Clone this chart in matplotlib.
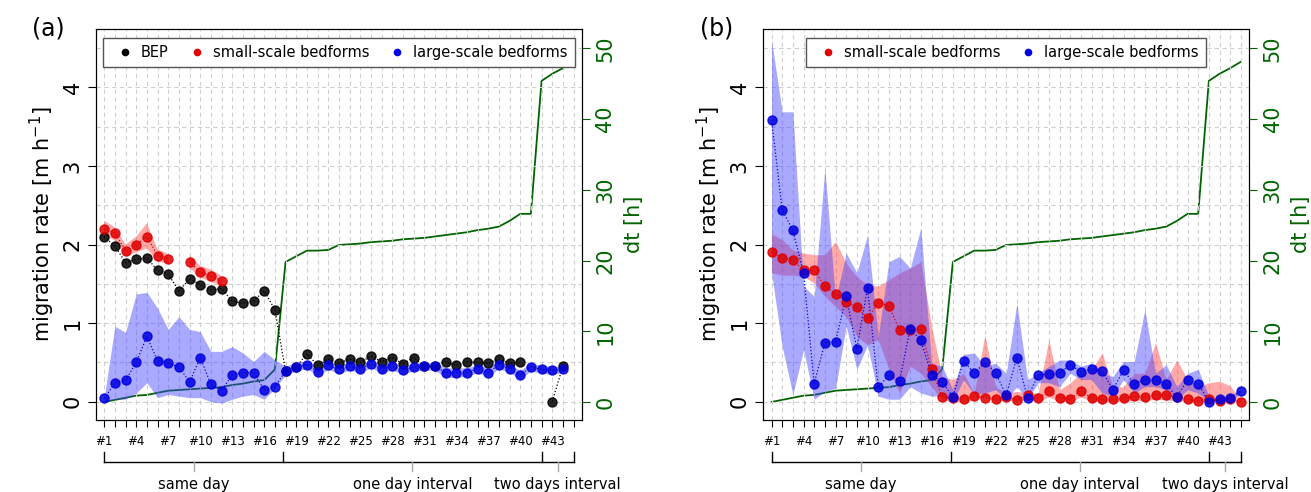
import numpy as np
import matplotlib.pyplot as plt
from matplotlib.transforms import blended_transform_factory

nan = np.nan
idx = np.arange(1, 46)

# time between surveys [h]
dt = [0, 0.3, 0.6, 0.9, 1.0, 1.3, 1.6, 1.7, 1.8, 1.9, 2.0, 2.1, 2.4, 2.6, 2.9, 3.1, 4.6,
      19.8, 20.6, 21.4, 21.4, 21.5, 22.2, 22.3, 22.4, 22.6, 22.7, 22.8, 23.0, 23.1, 23.2,
      23.4, 23.6, 23.8, 24.0, 24.3, 24.5, 24.8, 25.6, 26.6, 26.6, 45.4, 46.4, 47.2, 48.1]

# panel (a)
bep_a = [2.10, 1.98, 1.77, 1.81, 1.83, 1.67, 1.62, 1.41, 1.56, 1.49, 1.42, 1.44, 1.28, 1.25,
         1.28, 1.41, 1.17, 0.39, 0.44, 0.61, 0.46, 0.54, 0.49, 0.54, 0.50, 0.58, 0.51, 0.56,
         0.48, 0.56, 0.45, 0.45, 0.51, 0.46, 0.51, 0.50, 0.49, 0.54, 0.49, 0.50, nan, nan,
         0.0, 0.45, nan]
small_a = [2.20, 2.15, 1.92, 2.00, 2.10, 1.86, 1.82, nan, 1.78, 1.65, 1.60, 1.54] + [nan] * 33
small_a_lo = [2.12, 2.05, 1.85, 1.90, 1.95, 1.78, 1.76, nan, 1.70, 1.58, 1.52, 1.48] + [nan] * 33
small_a_hi = [2.30, 2.22, 2.00, 2.10, 2.27, 1.94, 1.88, nan, 1.86, 1.73, 1.68, 1.60] + [nan] * 33
large_a = [0.04, 0.24, 0.27, 0.50, 0.83, 0.52, 0.49, 0.44, 0.25, 0.56, 0.22, 0.14, 0.34, 0.37,
           0.37, 0.15, 0.19, 0.39, 0.44, 0.47, 0.38, 0.46, 0.41, 0.45, 0.42, 0.48, 0.42, 0.45,
           0.40, 0.44, 0.45, 0.45, 0.37, 0.37, 0.37, 0.42, 0.37, 0.47, 0.42, 0.34, 0.44, 0.41,
           0.40, 0.41, nan]
large_a_hi = [0.06, 0.96, 0.88, 1.37, 1.39, 1.19, 0.92, 1.08, 0.92, 0.89, 0.64, 0.64, 0.70, 0.62,
              0.51, 0.64, 0.53, 0.45, 0.50, 0.52, 0.44, 0.51, 0.47, 0.50, 0.47, 0.53, 0.47, 0.50,
              0.45, 0.49, 0.50, 0.50, 0.43, 0.43, 0.43, 0.47, 0.43, 0.52, 0.47, 0.40, 0.49, 0.46,
              0.45, 0.45, nan]
large_a_lo = [0.0, 0.03, 0.03, 0.11, 0.24, 0.05, 0.09, 0.07, 0.05, 0.05, 0.0, -0.02, 0.03, 0.07,
              0.09, 0.03, 0.17, 0.34, 0.39, 0.42, 0.33, 0.41, 0.36, 0.40, 0.37, 0.43, 0.37, 0.40,
              0.35, 0.39, 0.40, 0.40, 0.31, 0.31, 0.32, 0.37, 0.32, 0.42, 0.37, 0.29, 0.39, 0.36,
              0.35, 0.37, nan]

# panel (b)
small_b = [1.90, 1.83, 1.80, 1.67, 1.67, 1.47, 1.37, 1.27, 1.20, 1.06, 1.26, 1.22, 0.91, 0.91,
           0.92, 0.41, 0.06, 0.04, 0.03, 0.07, 0.05, 0.03, 0.06, 0.02, 0.08, 0.04, 0.14, 0.05,
           0.03, 0.14, 0.04, 0.03, 0.03, 0.04, 0.07, 0.06, 0.09, 0.08, 0.06, 0.03, 0.01, 0.03,
           0.01, 0.03, 0.00]
small_b_hi = [2.14, 2.06, 1.93, 1.89, 1.87, 1.87, 2.04, 1.76, 1.59, 1.49, 1.47, 1.55, 1.64, 1.70,
              1.78, 0.96, 0.32, 0.28, 0.36, 0.11, 0.85, 0.19, 0.11, 0.13, 0.11, 0.11, 0.79, 0.15,
              0.24, 0.36, 0.41, 0.62, 0.19, 0.19, 0.36, 0.36, 0.75, 0.28, 0.53, 0.28, 0.19, 0.24,
              0.26, 0.20, 0.03]
small_b_lo = [1.64, 1.61, 1.61, 1.59, 1.51, 1.34, 1.21, 1.08, 0.83, 0.72, 0.79, 0.41, 0.11, 0.45,
              0.36, 0.19, 0.02, 0.0, 0.0, 0.02, 0.07, 0.0, 0.02, 0.0, 0.03, 0.0, 0.06, 0.0,
              0.0, 0.06, 0.0, 0.0, 0.0, 0.0, 0.02, 0.01, 0.03, 0.02, 0.01, 0.0, 0.0, 0.0,
              0.0, 0.0, 0.0]
large_b = [3.59, 2.44, 2.18, 1.64, 0.23, 0.75, 0.76, 1.34, 0.67, 1.45, 0.18, 0.34, 0.26, 0.93,
           0.78, 0.34, 0.25, 0.06, 0.52, 0.36, 0.50, 0.37, 0.08, 0.56, 0.05, 0.34, 0.35, 0.36,
           0.47, 0.38, 0.41, 0.39, 0.15, 0.40, 0.22, 0.28, 0.28, 0.22, 0.06, 0.28, 0.23, 0.00,
           0.03, 0.05, 0.14]
large_b_hi = [4.60, 3.69, 3.69, 1.47, 1.34, 2.97, 1.30, 1.89, 1.64, 2.12, 0.83, 1.78, 1.85, 1.70,
              2.21, 0.49, 0.45, 0.15, 0.60, 0.62, 0.45, 0.49, 0.36, 1.25, 0.28, 0.36, 0.45, 0.53,
              0.53, 0.45, 0.49, 0.36, 0.32, 0.51, 0.51, 1.17, 0.36, 0.47, 0.19, 0.36, 0.41, 0.07,
              0.03, 0.07, 0.15]
large_b_lo = [1.64, 0.70, 0.09, 0.66, 0.03, 0.13, 0.17, 0.96, 0.41, 0.72, 0.07, 0.03, 0.03, 0.19,
              0.11, 0.07, 0.07, 0.0, 0.28, 0.09, 0.11, 0.15, 0.03, 0.19, 0.03, 0.24, 0.24, 0.19,
              0.36, 0.28, 0.28, 0.11, 0.07, 0.28, 0.11, 0.19, 0.19, 0.15, 0.03, 0.15, 0.11, 0.0,
              0.0, 0.0, 0.12]

tick_idx = list(range(1, 44, 3))
groups = [("same day", 1, 17.8), ("one day interval", 17.8, 42), ("two days interval", 42, 45)]

RED, BLUE, GREEN = "#e00000", "#0000e0", "#006400"


def draw_panel(ax, series, label):
    for v in np.arange(1, 46):
        ax.axvline(v, color="#d0d0d0", lw=0.8, ls=(0, (4, 3)), zorder=0)
    for h in np.arange(0, 5, 0.5):
        ax.axhline(h, color="#d0d0d0", lw=0.8, ls=(0, (4, 3)), zorder=0)
    ax2 = ax.twinx()
    ax2.plot(idx, dt, color=GREEN, lw=1.3, zorder=1)
    ax2.set_ylim(-2.5, 52.8)
    ax2.set_yticks([0, 10, 20, 30, 40, 50])
    ax2.tick_params(axis="y", colors=GREEN, labelsize=15, length=6, labelrotation=90)
    for t in ax2.get_yticklabels():
        t.set_va("center")
    ax2.set_ylabel("dt [h]", color=GREEN, fontsize=15, labelpad=6)
    ax.set_zorder(ax2.get_zorder() + 1)
    ax.patch.set_visible(False)

    handles = []
    for vals, lo, hi, col, band, name in series:
        v = np.array(vals, float)
        if lo is not None:
            ax.fill_between(idx, lo, hi, color=band, alpha=0.45, lw=0, zorder=2)
        ax.plot(idx, v, ls=":", color=col, lw=0.9, zorder=3)
        ax.plot(idx, v, "o", color=col, ms=6.5, alpha=0.85, zorder=4)
        handles.append(plt.Line2D([], [], ls="", marker="o", ms=4.5, color=col, label=name))

    ax.set_xlim(0.2, 45.8)
    ax.set_ylim(-0.23, 4.75)
    ax.set_yticks([0, 1, 2, 3, 4])
    ax.tick_params(axis="y", labelsize=15, length=6, labelrotation=90)
    for t in ax.get_yticklabels():
        t.set_va("center")
    ax.set_xticks(np.arange(1, 46))
    ax.set_xticklabels([f"#{i}" if i in tick_idx else "" for i in range(1, 46)], fontsize=8.5)
    ax.tick_params(axis="x", length=5, pad=6)
    ax.set_ylabel(r"migration rate [m h$^{-1}$]", fontsize=15)
    leg = ax.legend(handles=handles, loc="upper center", ncol=len(handles), fontsize=10.5,
                    handletextpad=0.1, columnspacing=0.9, fancybox=False, framealpha=1,
                    edgecolor="#555555", borderpad=0.5, bbox_to_anchor=(0.5, 0.995))
    leg.set_zorder(10)

    tr = blended_transform_factory(ax.transData, ax.transAxes)
    y0 = -0.107
    edges = [1, 17.8, 42, 45]
    ax.plot([1, 45], [y0, y0], color="black", lw=1, transform=tr, clip_on=False)
    for e in edges:
        ax.plot([e, e], [y0, y0 + 0.025], color="black", lw=1, transform=tr, clip_on=False)
    for name, a, b in groups:
        m = (a + b) / 2
        ax.plot([m, m], [y0, y0 - 0.025], color="#aaaaaa", lw=1, transform=tr, clip_on=False)
        ax.text(m, y0 - 0.04, name, transform=tr, ha="center", va="top", fontsize=10.5)
    ax.text(-0.13, 1.0, label, transform=ax.transAxes, fontsize=17, va="center", ha="left")


fig = plt.figure(figsize=(13.11, 4.92), dpi=100)
ax_a = fig.add_axes([0.073, 0.147, 0.371, 0.795])
ax_b = fig.add_axes([0.582, 0.147, 0.371, 0.795])

draw_panel(ax_a, [
    (bep_a, None, None, "black", None, "BEP"),
    (small_a, small_a_lo, small_a_hi, RED, "#ff4040", "small-scale bedforms"),
    (large_a, large_a_lo, large_a_hi, BLUE, "#4040ff", "large-scale bedforms"),
], "(a)")
draw_panel(ax_b, [
    (small_b, small_b_lo, small_b_hi, RED, "#ff4040", "small-scale bedforms"),
    (large_b, large_b_lo, large_b_hi, BLUE, "#4040ff", "large-scale bedforms"),
], "(b)")

fig.savefig("out.png", dpi=100)
